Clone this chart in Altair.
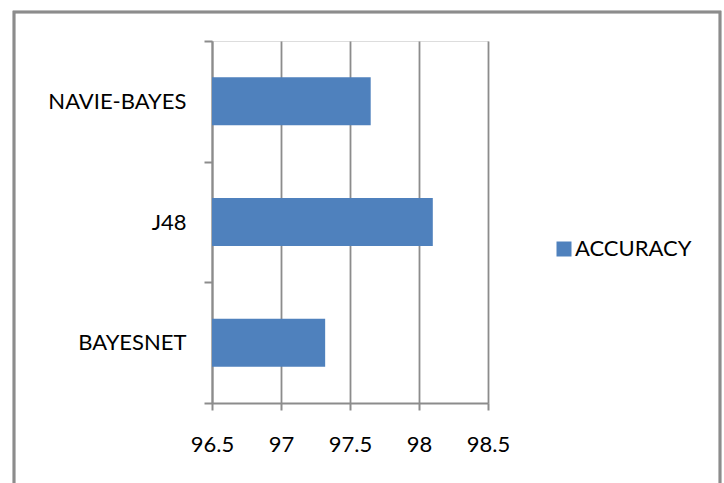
import altair as alt
import pandas as pd

categories = ["NAVIE-BAYES", "J48", "BAYESNET"]
accuracy = [97.65, 98.1, 97.32]
series = ["ACCURACY", "ACCURACY", "ACCURACY"]
x_ticks = [96.5, 97, 97.5, 98, 98.5]

df = pd.DataFrame({"method": categories, "value": accuracy, "series": series})

FONT = "Lato"
GRAY = "#8c8c8c"
FS = 22

bars = alt.Chart(df).mark_bar(size=48, clip=True).encode(
    y=alt.Y("method:N", sort=categories,
            scale=alt.Scale(paddingInner=0, paddingOuter=0),
            axis=alt.Axis(title=None, tickBand="extent", labelPadding=18,
                          tickSize=8, tickWidth=2, tickColor=GRAY,
                          domainColor=GRAY, domainWidth=2, grid=False,
                          labelFont=FONT, labelFontSize=FS, labelColor="#000000")),
    x=alt.X("value:Q",
            scale=alt.Scale(domain=[96.5, 98.5], zero=False, nice=False),
            axis=alt.Axis(title=None, values=x_ticks, format=".1~f", labelFlush=False,
                          grid=True, gridColor=GRAY, gridWidth=1.8,
                          tickSize=7, tickWidth=2, tickColor=GRAY,
                          domainColor=GRAY, domainWidth=2, labelPadding=24,
                          labelFont=FONT, labelFontSize=FS, labelColor="#000000")),
    color=alt.Color("series:N",
                    scale=alt.Scale(domain=["ACCURACY"], range=["#4f81bd"]),
                    legend=alt.Legend(title=None, orient="none", legendX=341, legendY=197,
                                      symbolType="square", symbolSize=225,
                                      symbolStrokeWidth=0, labelOffset=0, padding=0,
                                      labelFont=FONT, labelFontSize=FS, labelColor="#000000")),
)

frame = alt.Chart(df).mark_rect(fill=None, stroke=GRAY, strokeWidth=2.5).encode(
    x=alt.value(-198), x2=alt.value(508), y=alt.value(-29), y2=alt.value(470)
)

chart = alt.layer(frame, bars).properties(
    width=276, height=362,
    autosize=alt.AutoSizeParams(type="none"),
    padding={"left": 212, "top": 41, "right": 236, "bottom": 80},
).configure_view(stroke=None).configure(background="white")

chart.save("out.html", embed_options={"renderer": "svg", "actions": False})
